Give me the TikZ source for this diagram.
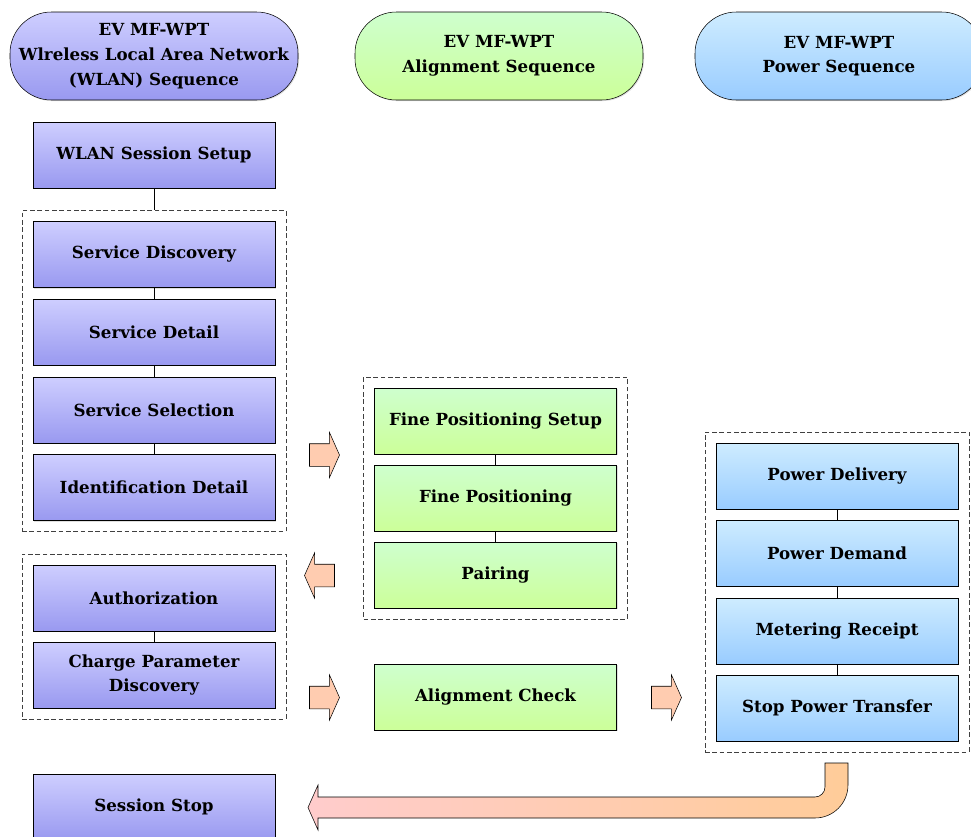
\documentclass[tikz,border=0pt]{standalone}
\usepackage{fontspec}
\setmainfont{DejaVu Serif}
\usetikzlibrary{shapes.arrows,fit,shadows}

\definecolor{wlantop}{RGB}{206,206,255}
\definecolor{wlanbot}{RGB}{153,153,240}
\definecolor{aligntop}{RGB}{206,255,206}
\definecolor{alignbot}{RGB}{204,255,153}
\definecolor{powertop}{RGB}{206,236,255}
\definecolor{powerbot}{RGB}{153,204,255}
\definecolor{peach}{RGB}{255,204,176}
\definecolor{returnleft}{RGB}{255,204,204}
\definecolor{returnright}{RGB}{255,204,153}

\tikzset{
  txt/.style={font=\bfseries\fontsize{12.5}{18.5}\selectfont, align=center},
  stage/.style={txt, draw, minimum width=181.5pt, minimum height=49.5pt, inner sep=2pt,
    drop shadow={opacity=0.25, shadow xshift=0.8pt, shadow yshift=-0.8pt}},
  wlanbox/.style={stage, top color=wlantop, bottom color=wlanbot},
  alignbox/.style={stage, top color=aligntop, bottom color=alignbot},
  powerbox/.style={stage, top color=powertop, bottom color=powerbot},
  header/.style={txt, draw, rounded corners=31pt, inner sep=1pt, minimum width=216pt,
    minimum height=66pt, drop shadow={opacity=0.25, shadow xshift=0.8pt, shadow yshift=-0.8pt}},
  group/.style={draw=black!75, dash pattern=on 3.5pt off 2pt, inner sep=8pt},
  blockarrow/.style={single arrow, draw, fill=peach, inner xsep=0pt, inner ysep=8.25pt,
    minimum height=22.5pt, minimum width=33.75pt, single arrow head extend=8.6pt,
    single arrow tip angle=132}
}

\begin{document}
\begin{tikzpicture}[x=0.75pt,y=-0.75pt]
\useasboundingbox (0,0) rectangle (971,836);

% sequence headers
\node[header, top color=wlantop, bottom color=wlanbot] (hwlan) at (154,56)
  {EV MF-WPT\\Wlreless Local Area Network\\(WLAN) Sequence};
\node[header, top color=aligntop, bottom color=alignbot] (halign) at (499,56)
  {EV MF-WPT\\Alignment Sequence};
\node[header, top color=powertop, bottom color=powerbot] (hpower) at (839,56)
  {EV MF-WPT\\Power Sequence};

% WLAN column
\node[wlanbox] (setup) at (154,155) {WLAN Session Setup};
\node[wlanbox] (disc) at (154,254.5) {Service Discovery};
\node[wlanbox] (detail) at (154,332) {Service Detail};
\node[wlanbox] (select) at (154,410) {Service Selection};
\node[wlanbox] (ident) at (154,487.5) {Identification Detail};
\node[wlanbox] (auth) at (154,598) {Authorization};
\node[wlanbox] (param) at (154,675) {Charge Parameter\\Discovery};
\node[wlanbox] (stop) at (154,807) {Session Stop};

% alignment column
\node[alignbox] (finesetup) at (495.5,421) {Fine Positioning Setup};
\node[alignbox] (fine) at (495.5,498) {Fine Positioning};
\node[alignbox] (pair) at (495.5,575) {Pairing};
\node[alignbox] (check) at (495.5,697) {Alignment Check};

% power column
\node[powerbox] (deliv) at (837,476) {Power Delivery};
\node[powerbox] (demand) at (837,553) {Power Demand};
\node[powerbox] (meter) at (837,631) {Metering Receipt};
\node[powerbox] (halt) at (837,708) {Stop Power Transfer};

% dashed groups
\node[group, fit=(disc)(ident)] (gservice) {};
\node[group, fit=(auth)(param)] (gauth) {};
\node[group, fit=(finesetup)(pair)] (gfine) {};
\node[group, fit=(deliv)(halt)] (gpower) {};

% links
\draw (setup) -- (gservice);
\draw (disc) -- (detail) -- (select) -- (ident);
\draw (auth) -- (param);
\draw (finesetup) -- (fine) -- (pair);
\draw (deliv) -- (demand) -- (meter) -- (halt);

% block arrows
\node[blockarrow] (a1) at (322,455) {};
\node[blockarrow, shape border rotate=180] (a2) at (322,575.5) {};
\node[blockarrow] (a3) at (322,697.5) {};
\node[blockarrow] (a4) at (664,697.5) {};

% return arrow
\draw[left color=returnleft, right color=returnright]
  (825,763) -- (848,763) -- (848,785) arc[start angle=0, end angle=90, radius=33]
  -- (318,818) -- (318,830) -- (308,807.5) -- (318,785) -- (318,797)
  -- (815,797) arc[start angle=90, end angle=0, radius=10] -- cycle;
\end{tikzpicture}
\end{document}
